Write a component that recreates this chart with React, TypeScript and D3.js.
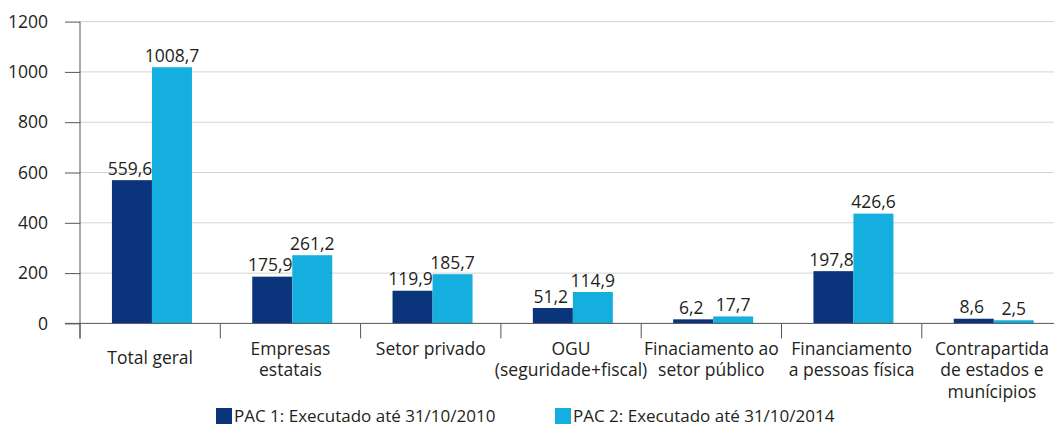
import React, { useRef, useEffect } from "react";
import * as d3 from "d3";

const categories = [
  ["Total geral"],
  ["Empresas", "estatais"],
  ["Setor privado"],
  ["OGU", "(seguridade+fiscal)"],
  ["Finaciamento ao", "setor público"],
  ["Financiamento", "a pessoas física"],
  ["Contrapartida", "de estados e", "munícipios"],
];
const pac1 = [559.6, 175.9, 119.9, 51.2, 6.2, 197.8, 8.6];
const pac2 = [1008.7, 261.2, 185.7, 114.9, 17.7, 426.6, 2.5];
const seriesNames = ["PAC 1: Executado até 31/10/2010", "PAC 2: Executado até 31/10/2014"];
const yTicks = [0, 200, 400, 600, 800, 1000, 1200];

const colors = ["#0a347b", "#14afde"];
const fmt = (v: number) => v.toFixed(1).replace(".", ",");

const App = () => {
  const svgRef = useRef<SVGSVGElement>(null);

  useEffect(() => {
    const width = 1054;
    const margin = { top: 21.6, left: 80, bottom: 323.4 };
    const band = 140.3;
    const fs = 17.5;

    const svg = d3.select(svgRef.current);
    svg.selectAll("*").remove();
    const font = "'Open Sans', 'Noto Sans', sans-serif";
    svg.attr("font-family", font);

    const idx = categories.map((_, i) => i);
    const x = d3
      .scaleBand<number>()
      .domain(idx)
      .range([margin.left, margin.left + band * categories.length])
      .paddingInner(0)
      .paddingOuter(0);
    const y = d3.scaleLinear().domain([0, 1200]).range([margin.bottom, margin.top]);

    // grid
    svg
      .append("g")
      .selectAll("line")
      .data(yTicks.filter((t) => t > 0))
      .enter()
      .append("line")
      .attr("x1", margin.left)
      .attr("x2", width)
      .attr("y1", (d) => y(d))
      .attr("y2", (d) => y(d))
      .attr("stroke", "#d4d4d4")
      .attr("stroke-width", 1);

    // bars
    const barW = 40;
    const series = [pac1, pac2];
    series.forEach((vals, s) => {
      svg
        .append("g")
        .selectAll("rect")
        .data(vals)
        .enter()
        .append("rect")
        .attr("x", (_, i) => x(i)! + band / 2 - barW + s * barW + 1.8)
        .attr("width", barW)
        .attr("y", (d) => y(d) - 2.5)
        .attr("height", (d) => margin.bottom - y(d) + 2.5)
        .attr("fill", colors[s]);

      svg
        .append("g")
        .selectAll("text")
        .data(vals)
        .enter()
        .append("text")
        .attr("x", (_, i) => x(i)! + band / 2 - barW / 2 + s * barW + 1.8 - (s === 0 ? 2 : 0))
        .attr("y", (d) => y(d) - 8)
        .attr("text-anchor", "middle")
        .attr("font-size", fs)
        .attr("fill", "#231f20")
        .text((d) => fmt(d));
    });

    // y axis
    const yAxis = svg
      .append("g")
      .attr("transform", `translate(${margin.left},0)`)
      .call(d3.axisLeft(y).tickValues(yTicks).tickSize(15).tickPadding(17).tickFormat(d3.format("d")));
    yAxis.select(".domain").attr("stroke", "#555").attr("d", `M0,${margin.top}V${margin.bottom + 15}`);
    yAxis.selectAll(".tick line").attr("stroke", "#555");
    yAxis
      .selectAll(".tick text")
      .attr("font-size", fs)
      .attr("font-family", font)
      .attr("fill", "#231f20");

    // x axis
    const xg = svg.append("g");
    xg.append("line")
      .attr("x1", margin.left - 15)
      .attr("x2", width)
      .attr("y1", margin.bottom)
      .attr("y2", margin.bottom)
      .attr("stroke", "#555");
    xg.selectAll(".xt")
      .data(idx)
      .enter()
      .append("line")
      .attr("x1", (i) => x(i)!)
      .attr("x2", (i) => x(i)!)
      .attr("y1", margin.bottom)
      .attr("y2", margin.bottom + 15)
      .attr("stroke", "#555");

    const labels = xg
      .selectAll(".xl")
      .data(categories)
      .enter()
      .append("text")
      .attr("text-anchor", "middle")
      .attr("font-size", fs)
      .attr("fill", "#231f20")
      .attr("transform", (d, i) => `translate(${x(i)! + band / 2},${margin.bottom + (d.length === 1 && i === 0 ? 41 : 31.5)})`);
    labels
      .selectAll("tspan")
      .data((d) => d)
      .enter()
      .append("tspan")
      .attr("x", 0)
      .attr("dy", (_, j) => (j === 0 ? 0 : 21.5))
      .text((d) => d);

    // legend
    const legendX = [216, 555];
    const lg = svg
      .selectAll(".lg")
      .data(seriesNames)
      .enter()
      .append("g")
      .attr("transform", (_, i) => `translate(${legendX[i]},408)`);
    lg.append("rect").attr("width", 16).attr("height", 16).attr("fill", (_, i) => colors[i]);
    lg.append("text")
      .attr("x", 18)
      .attr("y", 13.5)
      .attr("font-size", 17)
      .attr("fill", "#231f20")
      .text((d) => d);
  }, []);

  return (
    <div style={{ position: "absolute", left: 0, top: 0, width: 1054, height: 425, overflow: "hidden" }}>
      <svg ref={svgRef} width={1054} height={425} style={{ display: "block" }} />
    </div>
  );
};

export default App;
